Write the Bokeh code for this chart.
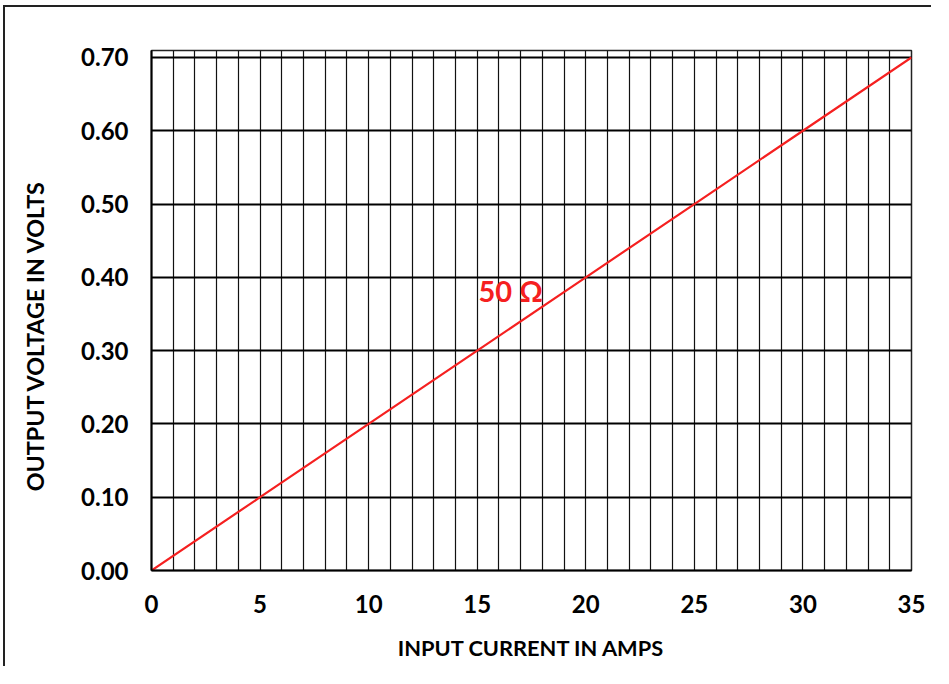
import math
from bokeh.plotting import figure
from bokeh.models import Range1d, FixedTicker, Label
from bokeh.embed import file_html
from bokeh.resources import INLINE

# Data
current_amps = [0, 5, 10, 15, 20, 25, 30, 35]
output_volts = [0.00, 0.10, 0.20, 0.30, 0.40, 0.50, 0.60, 0.70]
x_ticks = [0, 5, 10, 15, 20, 25, 30, 35]
y_ticks = [0.0, 0.1, 0.2, 0.3, 0.4, 0.5, 0.6, 0.7]
y_tick_labels = ["0.00", "0.10", "0.20", "0.30", "0.40", "0.50", "0.60", "0.70"]
x_minor_grid = list(range(0, 36))
series_label = "50 Ω"
label_pos = (15.06, 0.382)
x_title = "INPUT CURRENT IN AMPS"
y_title = "OUTPUT VOLTAGE IN VOLTS"

FONT = "Lato"
W, H = 928, 661

p = figure(width=W, height=H, output_backend="svg", toolbar_location=None,
           x_range=Range1d(0, 35), y_range=Range1d(0, 0.7095),
           min_border_left=146, min_border_right=W - 906, min_border_top=43,
           min_border_bottom=H - 563)
p.styles = {"border-top": "2px solid #222222", "border-left": "2px solid #222222",
            "margin-left": "3px", "margin-top": "5px"}
p.background_fill_color = "white"
p.border_fill_color = "white"
p.outline_line_color = "#222222"
p.outline_line_width = 1.5

# Grids
p.xgrid.ticker = FixedTicker(ticks=x_minor_grid)
p.xgrid.grid_line_color = "#111111"
p.xgrid.grid_line_width = 1.2
p.ygrid.ticker = FixedTicker(ticks=y_ticks)
p.ygrid.grid_line_color = "black"
p.ygrid.grid_line_width = 2

# Axes
p.xaxis.ticker = FixedTicker(ticks=x_ticks)
p.yaxis.ticker = FixedTicker(ticks=y_ticks)
p.yaxis.major_label_overrides = {v: s for v, s in zip(y_ticks, y_tick_labels)}
for ax in (p.xaxis[0], p.yaxis[0]):
    ax.major_tick_line_color = None
    ax.minor_tick_line_color = None
    ax.major_tick_out = 0
    ax.major_tick_in = 0
    ax.minor_tick_out = 0
    ax.axis_line_color = "black"
    ax.axis_line_width = 2
    ax.major_label_text_font = FONT
    ax.major_label_text_font_style = "bold"
    ax.major_label_text_font_size = "24px"
    ax.major_label_text_color = "black"
    ax.axis_label_text_font = FONT
    ax.axis_label_text_font_style = "bold"
    ax.axis_label_text_color = "black"
p.xaxis.major_label_standoff = 24
p.yaxis.major_label_standoff = 23
p.xaxis.axis_label = x_title
p.xaxis.axis_label_text_font_size = "21.8px"
p.xaxis.axis_label_standoff = 18

# Y title placed explicitly (canvas coordinates)
p.add_layout(Label(x=27, y=326, x_units="canvas", y_units="canvas", text=y_title,
                   angle=math.pi / 2, text_font=FONT, text_font_style="bold",
                   text_font_size="23.3px", text_color="black",
                   text_align="center", text_baseline="middle"), "left")

# Series
p.line(current_amps, output_volts, line_color="#f52020", line_width=2.2)
p.add_layout(Label(x=label_pos[0], y=label_pos[1], text=series_label,
                   text_font=FONT, text_font_style="bold", text_font_size="29px",
                   text_color="#f52020", text_baseline="middle", text_align="left"))

open("out.html", "w").write(file_html(p, INLINE))
